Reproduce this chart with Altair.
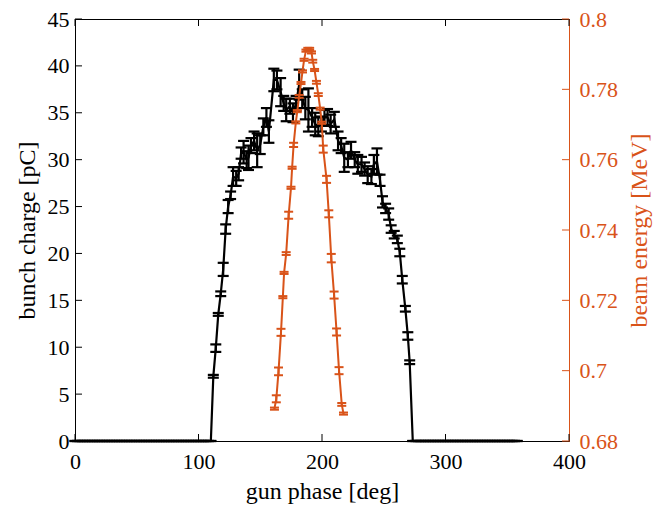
import altair as alt
import pandas as pd

# ---------------- data ----------------
# bunch charge scan (black, left axis)
zero_left_phase = [0, 2, 4, 6, 8, 10, 12, 14, 16, 18, 20, 22, 24, 26, 28, 30, 32, 34, 36, 38,
                   40, 42, 44, 46, 48, 50, 52, 54, 56, 58, 60, 62, 64, 66, 68, 70, 72, 74, 76,
                   78, 80, 82, 84, 86, 88, 90, 92, 94, 96, 98, 100, 102, 104, 106, 108, 110]
q_phase = [112.0, 114.0, 116.0, 118.0, 120.0, 122.0, 124.0, 126.0, 128.0, 130.5, 132.5, 134.5,
           136.5, 139.0, 140.5, 142.5, 145.0, 147.5, 150.0, 152.5, 155.0, 157.0, 161.0, 163.5,
           166.5, 169.0, 171.0, 174.0, 176.5, 179.0, 181.5, 184.0, 186.5, 189.0, 192.0, 194.5,
           197.0, 199.5, 202.0, 204.5, 207.0, 210.0, 213.0, 215.5, 218.0, 221.0, 223.5, 226.5,
           229.0, 232.0, 234.5, 237.0, 240.0, 242.0, 244.5, 247.0, 249.0, 251.5, 254.0, 256.0,
           258.5, 261.0, 263.0, 265.0, 267.5, 269.5, 271.0]
q_charge = [6.9, 9.9, 13.5, 15.7, 18.3, 22.6, 25.0, 26.2, 28.2, 28.0, 28.5, 30.7,
            30.8, 30.0, 30.2, 31.5, 32.0, 31.0, 31.6, 33.5, 34.5, 33.0, 38.5, 38.5,
            37.2, 36.0, 35.3, 35.7, 35.0, 36.0, 38.0, 36.5, 35.5, 35.3, 34.5, 33.8,
            33.5, 33.8, 34.5, 34.5, 33.8, 34.3, 32.0, 31.5, 30.2, 30.0, 31.0, 30.0,
            29.5, 29.5, 29.0, 28.4, 28.2, 29.5, 29.8, 27.8, 25.5, 24.8, 24.2, 22.6,
            22.0, 21.5, 20.1, 17.2, 14.1, 11.2, 8.4]
q_err = [0.15, 0.4, 0.15, 0.25, 0.7, 0.5, 0.7, 0.4, 1.0, 0.8, 0.7, 0.6,
         1.2, 0.9, 1.3, 0.8, 1.0, 1.8, 1.0, 0.9, 1.0, 1.2, 1.2, 1.0,
         1.5, 0.8, 1.2, 0.8, 1.0, 0.8, 1.6, 1.0, 1.2, 2.3, 1.0, 1.2,
         1.0, 0.8, 0.8, 0.9, 1.0, 0.8, 1.0, 0.8, 1.5, 0.8, 0.9, 0.8,
         1.0, 0.8, 0.7, 0.9, 0.8, 1.0, 1.4, 0.6, 0.6, 0.5, 0.6, 0.4,
         0.4, 0.4, 0.4, 0.4, 0.3, 0.4, 0.2]
zero_right_phase = [273.5, 276, 278, 280, 282, 284, 286, 288, 290, 292, 294, 296, 298, 300, 302,
                    304, 306, 308, 310, 312, 314, 316, 318, 320, 322, 324, 326, 328, 330, 332,
                    334, 336, 338, 340, 342, 344, 346, 348, 350, 352, 354, 356, 358]

# beam energy scan (orange, right axis)
e_phase = [161.5, 163.0, 164.8, 166.8, 168.3, 169.3, 171.0, 173.0, 174.9, 175.8, 177.0, 178.8,
           180.0, 181.5, 183.0, 184.2, 185.5, 187.0, 188.5, 190.0, 191.5, 192.5, 194.0, 195.5,
           197.0, 198.5, 199.8, 201.0, 203.7, 205.5, 207.5, 209.8, 211.8, 213.8, 216.0, 217.4]
e_energy = [0.6892, 0.6920, 0.6998, 0.7109, 0.7209, 0.7278, 0.7333, 0.7442, 0.7520, 0.7577, 0.7642, 0.7706,
            0.7738, 0.7780, 0.7818, 0.7851, 0.7884, 0.7910, 0.7915, 0.7915, 0.7905, 0.7880, 0.7855, 0.7820,
            0.7785, 0.7745, 0.7705, 0.7630, 0.7544, 0.7446, 0.7320, 0.7215, 0.7110, 0.7000, 0.6904, 0.6878]
e_err = [0.0003, 0.0010, 0.0011, 0.0010, 0.0003, 0.0003, 0.0004, 0.0010, 0.0003, 0.0003, 0.0006, 0.0003,
         0.0003, 0.0004, 0.0003, 0.0003, 0.0003, 0.0003, 0.0003, 0.0003, 0.0003, 0.0004, 0.0003, 0.0004,
         0.0004, 0.0003, 0.0003, 0.0010, 0.0010, 0.0010, 0.0012, 0.0010, 0.0010, 0.0010, 0.0004, 0.0003]

x_ticks = [0, 100, 200, 300, 400]
left_ticks = [0, 5, 10, 15, 20, 25, 30, 35, 40, 45]
right_ticks = [0.68, 0.70, 0.72, 0.74, 0.76, 0.78, 0.80]

# ---------------- build tables ----------------
ph = zero_left_phase + q_phase + zero_right_phase
ch = [0.0] * len(zero_left_phase) + q_charge + [0.0] * len(zero_right_phase)
er = [0.0] * len(zero_left_phase) + q_err + [0.0] * len(zero_right_phase)
qdf = pd.DataFrame({"phase": ph, "charge": ch,
                    "lo": [c - e for c, e in zip(ch, er)],
                    "hi": [c + e for c, e in zip(ch, er)]})
edf = pd.DataFrame({"phase": e_phase, "energy": e_energy,
                    "lo": [v - e for v, e in zip(e_energy, e_err)],
                    "hi": [v + e for v, e in zip(e_energy, e_err)]})
xt = pd.DataFrame({"phase": x_ticks})
lt = pd.DataFrame({"v": left_ticks})
rt = pd.DataFrame({"v": right_ticks})

W, H = 494, 422
TL = 7
FONT = "Liberation Serif"
ORANGE = "#D95319"
LFS, TFS = 22, 24

xs = alt.Scale(domain=[0, 400], nice=False, zero=False)
ysL = alt.Scale(domain=[0, 45], nice=False)
ysR = alt.Scale(domain=[0.68, 0.80], nice=False, zero=False)

x_axis = alt.Axis(title="gun phase [deg]", values=x_ticks, ticks=False, tickSize=0,
                  labelPadding=10, titlePadding=7, domainColor="black", domainWidth=1,
                  labelFlush=False)
yL_axis = alt.Axis(title="bunch charge [pC]", values=left_ticks, ticks=False, tickSize=0,
                   labelPadding=6, titlePadding=8, domainColor="black", domainWidth=1,
                   labelFlush=False)
yR_axis = alt.Axis(title="beam energy [MeV]", orient="right", values=right_ticks, format="~g",
                   ticks=False, tickSize=0, labelPadding=10, titlePadding=10,
                   titleAngle=270, titleBaseline="top",
                   domainColor=ORANGE, domainWidth=1, labelColor=ORANGE, titleColor=ORANGE,
                   labelFlush=False)


def X(field="phase"):
    return alt.X(f"{field}:Q", scale=xs, axis=x_axis)


def YL(field):
    return alt.Y(f"{field}:Q", scale=ysL, axis=yL_axis)


def YR(field):
    return alt.Y(f"{field}:Q", scale=ysR, axis=yR_axis)


# ---- left (charge) group ----
q_line = alt.Chart(qdf).mark_line(color="black", strokeWidth=2.2).encode(x=X(), y=YL("charge"))
q_bar = alt.Chart(qdf).mark_rule(color="black", strokeWidth=2.2).encode(x=X(), y=YL("lo"), y2="hi:Q")
q_cap_lo = alt.Chart(qdf).mark_rule(color="black", strokeWidth=2.2, xOffset=-5.5, x2Offset=5.5).encode(
    x=X(), x2="phase:Q", y=YL("lo"))
q_cap_hi = alt.Chart(qdf).mark_rule(color="black", strokeWidth=2.2, xOffset=-5.5, x2Offset=5.5).encode(
    x=X(), x2="phase:Q", y=YL("hi"))
left_tk = alt.Chart(lt).mark_rule(color="black", strokeWidth=1).encode(
    y=YL("v"), x=alt.value(0), x2=alt.value(TL))
bot_tk = alt.Chart(xt).mark_rule(color="black", strokeWidth=1).encode(
    x=X(), y=alt.value(H), y2=alt.value(H - TL))
top_tk = alt.Chart(xt).mark_rule(color="black", strokeWidth=1).encode(
    x=X(), y=alt.value(0), y2=alt.value(TL))

left = alt.layer(q_line, q_bar, q_cap_lo, q_cap_hi, left_tk, bot_tk, top_tk)

# ---- right (energy) group ----
e_line = alt.Chart(edf).mark_line(color=ORANGE, strokeWidth=2).encode(x=X(), y=YR("energy"))
e_bar = alt.Chart(edf).mark_rule(color=ORANGE, strokeWidth=2).encode(x=X(), y=YR("lo"), y2="hi:Q")
e_cap_lo = alt.Chart(edf).mark_rule(color=ORANGE, strokeWidth=2, xOffset=-4.5, x2Offset=4.5).encode(
    x=X(), x2="phase:Q", y=YR("lo"))
e_cap_hi = alt.Chart(edf).mark_rule(color=ORANGE, strokeWidth=2, xOffset=-4.5, x2Offset=4.5).encode(
    x=X(), x2="phase:Q", y=YR("hi"))
right_tk = alt.Chart(rt).mark_rule(color=ORANGE, strokeWidth=1).encode(
    y=YR("v"), x=alt.value(W - TL), x2=alt.value(W))

right = alt.layer(e_line, e_bar, e_cap_lo, e_cap_hi, right_tk)

chart = alt.layer(left, right).resolve_scale(y="independent").properties(
    width=W, height=H,
    padding={"left": 75, "top": 19, "right": 88, "bottom": 67},
    autosize=alt.AutoSizeParams(type="none"),
    background="white",
).configure_view(
    stroke="black", strokeWidth=1
).configure_axis(
    labelFont=FONT, titleFont=FONT, labelFontSize=LFS, titleFontSize=TFS,
    titleFontWeight="normal", labelColor="black", titleColor="black", grid=False
)

chart.save("out.html", embed_options={"renderer": "svg", "actions": False})
